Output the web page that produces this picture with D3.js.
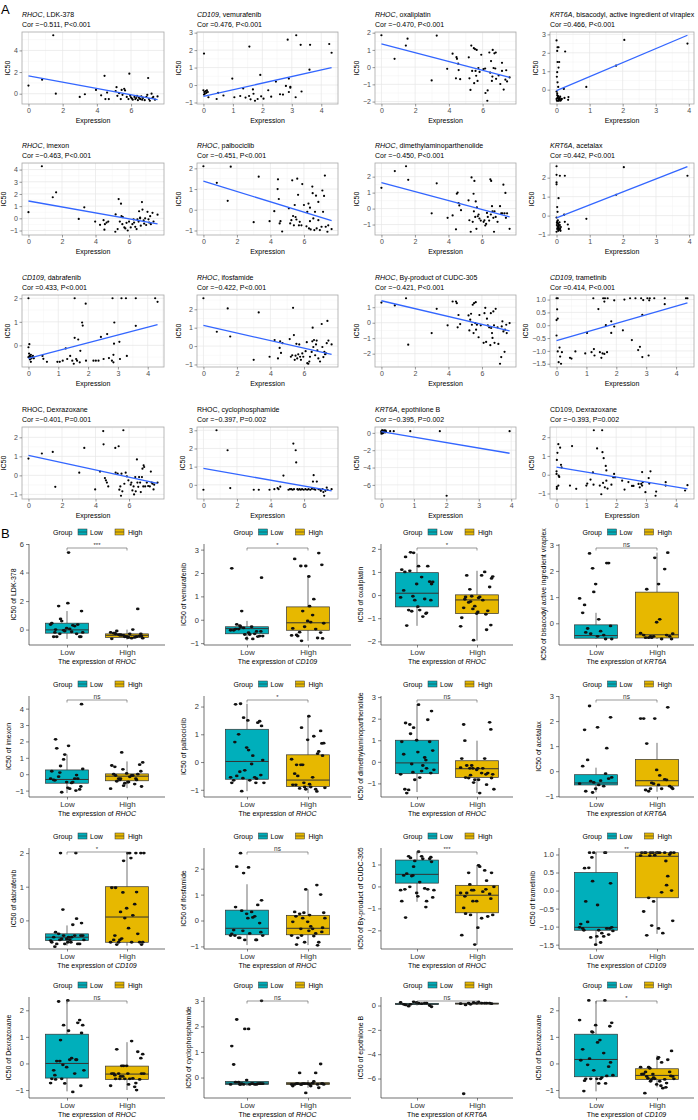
<!DOCTYPE html>
<html><head><meta charset="utf-8">
<script src="https://cdn.jsdelivr.net/npm/d3@7"></script>
<style>body{margin:0;background:#fff}svg{display:block}text{font-family:"Liberation Sans",Arial,Helvetica,sans-serif}</style>
</head><body><svg id="c" width="698" height="1120"></svg>
<script>
// ---------------- DATA ----------------
const genes = ["RHOC","CD109","RHOC","KRT6A","RHOC","RHOC","RHOC","KRT6A","CD109","RHOC","RHOC","CD109","RHOC","RHOC","KRT6A","CD109"];
const drugs = ["LDK-378","vemurafenib","oxaliplatin","bisacodyl, active ingredient of viraplex","imexon","palbociclib","dimethylaminoparthenolide","acetalax","dabrafenib","ifosfamide","By-product of CUDC-305","trametinib","Dexrazoxane","cyclophosphamide","epothilone B","Dexrazoxane"];
const geneItalic = [true,true,true,true,true,true,true,true,true,true,true,true,false,false,true,false];
const corLabels = ["Cor =\u22120.511, P<0.001","Cor =0.476, P<0.001","Cor =\u22120.470, P<0.001","Cor =0.466, P<0.001","Cor =\u22120.463, P<0.001","Cor =\u22120.451, P<0.001","Cor =\u22120.450, P<0.001","Cor =0.442, P<0.001","Cor =0.433, P<0.001","Cor =\u22120.422, P<0.001","Cor =\u22120.421, P<0.001","Cor =0.414, P<0.001","Cor =\u22120.401, P=0.001","Cor =\u22120.397, P=0.002","Cor =\u22120.395, P=0.002","Cor =\u22120.393, P=0.002"];

// [expression, IC50]
const ldk378 = [[0,0.75],[0.8,1.3],[1.45,5.4],[1.6,0],[3.0,-0.3],[3.3,-0.05],[3.95,0.35],[4.25,-0.15],[4.45,1.65],[4.5,-0.5],[4.6,0.1],[4.7,-0.5],[5.1,0.25],[5.15,0.6],[5.2,-0.2],[5.3,0.05],[5.4,-0.5],[5.45,0.35],[5.5,-0.1],[5.6,0.45],[5.65,0.3],[5.75,-0.3],[5.85,-0.5],[5.9,1.85],[5.95,-0.2],[6.0,-0.35],[6.05,-0.45],[6.1,-0.55],[6.2,-0.3],[6.25,-0.5],[6.3,-0.4],[6.35,-0.2],[6.4,-0.6],[6.45,-0.35],[6.5,-0.45],[6.55,-0.5],[6.6,-0.25],[6.65,-0.55],[6.7,-0.4],[6.8,-0.6],[6.9,-0.3],[6.95,-0.1],[7.0,1.45],[7.05,-0.5],[7.1,-0.65],[7.2,0.0],[7.25,-0.4],[7.3,-0.3],[7.4,-0.55],[7.55,-0.25]];
const vemurafenib = [[0.02,1.8],[0,-0.3],[0.03,-0.4],[0.05,-0.5],[0.08,-0.35],[0.1,-0.45],[0.12,-0.3],[0.02,-0.55],[0.15,-0.4],[0.17,-0.7],[0.45,-0.8],[0.5,-0.45],[0.68,-0.6],[0.98,0.37],[1.05,-0.7],[1.25,-0.63],[1.35,-0.2],[1.43,-0.72],[1.55,-0.63],[1.56,2.2],[1.6,-0.82],[1.68,-0.25],[1.7,-0.5],[1.75,-0.9],[1.84,-0.8],[1.93,0.58],[1.96,-0.65],[2.04,-0.78],[2.2,-0.3],[2.3,-0.67],[2.46,0.2],[2.6,-0.53],[2.7,-0.55],[2.8,-0.05],[2.86,2.6],[2.9,-0.4],[2.9,0.37],[2.95,-0.15],[2.95,-0.1],[3.13,-0.7],[3.15,2.85],[3.3,2.3],[3.33,-0.37],[3.6,0.88],[3.62,2.3],[4.27,2.35],[4.35,1.85]];
const oxaliplatin = [[0,1.85],[0.78,0.48],[1.45,1.25],[1.55,1.65],[2.98,-0.77],[3.28,1.83],[3.9,-0.1],[4.22,0.78],[4.42,-0.65],[4.45,0.58],[4.48,0.48],[4.55,0.2],[4.58,-0.17],[4.67,-0.7],[5.18,0.57],[5.22,-0.65],[5.28,-1.32],[5.33,1.25],[5.38,-0.22],[5.48,1.1],[5.5,-0.93],[5.55,1.05],[5.58,-0.22],[5.62,-0.5],[5.65,1.0],[5.7,-0.8],[5.75,-0.05],[5.82,-0.28],[5.92,0.72],[6.05,-0.12],[6.15,-0.08],[6.17,-1.5],[6.28,-1.95],[6.3,-1.35],[6.4,0.85],[6.45,-0.32],[6.5,0.35],[6.55,-0.8],[6.58,-0.55],[6.6,1.0],[6.65,-0.05],[6.7,0.8],[6.75,-0.08],[6.78,0.85],[6.8,-0.68],[6.95,-0.48],[7.05,-0.98],[7.15,-0.22],[7.15,0.25],[7.25,-1.3],[7.35,-0.73],[7.4,-0.18],[7.45,-0.83],[7.6,-0.6]];
const bisacodyl = [[0.0,2.67],[0.02,2.1],[0.03,2.3],[0.06,2.3],[0.08,1.5],[0.03,1.5],[0.06,1.2],[0.02,0.95],[0.01,0.7],[0.03,0.4],[0.05,0.15],[0.0,-0.1],[0.02,-0.3],[0.04,-0.4],[0.06,-0.5],[0.08,-0.55],[0.01,-0.6],[0.03,-0.45],[0.05,-0.35],[0.07,-0.6],[0.1,-0.5],[0.12,-0.6],[0.0,-0.5],[0.02,-0.2],[0.09,-0.45],[0.11,-0.38],[0.04,-0.6],[0.14,-0.55],[0.16,-0.5],[0.22,0.04],[0.24,-0.45],[0.26,2.07],[0.35,-0.55],[0.36,-0.4],[0.9,0.15],[1.8,1.3],[2.05,2.7],[3.96,2.5]];
const imexon = [[0,0.5],[0.8,4.27],[1.45,1.73],[1.65,2.13],[3.0,-0.05],[3.33,0.9],[3.98,-0.27],[4.27,-0.53],[4.48,-0.15],[4.53,-0.93],[4.56,-0.48],[4.66,-0.35],[4.76,-0.27],[5.18,-1.1],[5.2,0.32],[5.32,-0.88],[5.38,1.58],[5.45,-0.27],[5.52,1.2],[5.55,0.18],[5.6,-0.48],[5.63,0.1],[5.72,-0.75],[5.78,-0.83],[5.85,-0.37],[5.92,-1.0],[6.0,-0.27],[6.1,-0.75],[6.2,-0.48],[6.27,-0.08],[6.3,-0.35],[6.37,-0.7],[6.45,-0.88],[6.5,-0.08],[6.57,-0.27],[6.6,0.58],[6.66,0.05],[6.66,0],[6.7,-0.6],[6.77,1.33],[6.8,0.72],[6.87,-0.16],[6.9,-0.43],[6.96,0],[7.02,-0.55],[7.1,0.53],[7.16,-0.08],[7.2,-0.35],[7.26,0.18],[7.3,-0.48],[7.4,0.45],[7.46,-0.27],[7.7,0.3]];
const palbociclib = [[0,2.1],[0.8,1.3],[1.45,0.43],[1.63,2.08],[3.0,-0.6],[3.3,1.6],[3.95,-0.55],[4.23,-0.07],[4.43,1.0],[4.45,1.47],[4.5,0.52],[4.55,-0.66],[4.6,-0.55],[4.7,-1.05],[5.1,0.07],[5.18,-0.66],[5.25,-0.5],[5.3,1.42],[5.35,-0.3],[5.4,-0.75],[5.45,0.23],[5.5,-0.35],[5.55,-0.47],[5.6,1.5],[5.65,0.72],[5.7,-0.75],[5.75,-0.58],[5.85,-0.75],[5.9,1.24],[6.0,0.23],[6.15,-0.8],[6.2,-0.1],[6.27,0.3],[6.3,-0.9],[6.36,0.1],[6.36,-0.55],[6.4,-0.95],[6.5,1.12],[6.52,0.8],[6.56,-0.42],[6.62,-0.98],[6.66,-0.1],[6.72,0.68],[6.76,-0.9],[6.86,-0.5],[6.86,0.38],[6.95,-0.98],[7.05,-0.82],[7.1,0.93],[7.14,-0.1],[7.2,0.67],[7.25,1.65],[7.3,-0.82],[7.4,-1.06],[7.45,-0.75],[7.65,-0.93]];
const dimethylaminoparthenolide = [[0,1.3],[0.8,2.35],[1.47,2.65],[1.6,1.8],[3.0,-0.3],[3.3,1.58],[3.95,-0.58],[4.25,-0.43],[4.45,-1.3],[4.5,0.93],[4.55,1.0],[4.6,0.35],[4.65,0.2],[4.75,-0.1],[5.2,0.52],[5.25,-0.73],[5.33,-1.45],[5.38,1.95],[5.45,-0.83],[5.5,0.93],[5.52,-0.17],[5.55,1.73],[5.6,-0.52],[5.63,0.45],[5.67,-1.27],[5.7,0.08],[5.75,-0.48],[5.8,-0.37],[5.85,-0.62],[5.93,-0.75],[6.1,-0.83],[6.15,-0.73],[6.2,-1.06],[6.25,-0.96],[6.3,-0.27],[6.35,-0.52],[6.43,-0.75],[6.5,1.83],[6.53,-0.37],[6.55,1.73],[6.6,0.15],[6.63,-0.17],[6.68,-0.58],[6.72,-1.45],[6.75,-0.17],[6.82,-0.52],[6.93,-0.83],[7.08,0.15],[7.15,-0.3],[7.22,-0.3],[7.28,1.5],[7.35,-0.3],[7.4,0.98],[7.43,-0.58],[7.5,-0.3],[7.65,-1.27]];
const acetalax = [[0.0,2.6],[0.0,2.15],[0.0,1.75],[0.0,1.65],[0.06,0.92],[0.02,0.45],[0.03,0.2],[0.0,-0.1],[0.02,-0.3],[0.04,-0.4],[0.01,-0.5],[0.05,-0.55],[0.03,-0.6],[0.06,-0.45],[0.07,-0.65],[0.02,-0.7],[0.08,-0.75],[0.0,-0.85],[0.05,-0.8],[0.1,-0.5],[0.11,-0.7],[0.09,-0.35],[0.12,-0.8],[0.04,-0.25],[0.07,-0.55],[0.13,-0.6],[0.01,-0.38],[0.06,-0.7],[0.1,2.1],[0.23,0.05],[0.25,2.1],[0.25,-0.33],[0.34,-0.47],[0.37,-0.7],[0.9,-0.17],[1.8,1.1],[2.03,2.55],[3.95,2.1]];
const dabrafenib = [[0,2.0],[0,-0.08],[0.02,-0.35],[0.04,-0.45],[0.06,-0.5],[0.08,-0.4],[0.1,-0.55],[0.03,0.05],[0.05,-0.6],[0.12,-0.5],[0.15,-0.45],[0.18,-0.55],[0.08,-0.7],[0.0,-0.5],[0.47,-0.45],[0.5,-0.57],[0.62,-0.7],[0.97,-0.7],[1.05,-0.7],[1.15,-0.65],[1.25,-0.13],[1.3,-0.58],[1.4,-0.45],[1.47,-0.65],[1.52,-0.78],[1.55,2.0],[1.55,0.32],[1.6,-0.58],[1.63,-0.65],[1.67,0.25],[1.72,-0.72],[1.74,-0.23],[1.8,0.97],[1.82,0.84],[1.92,1.77],[1.93,-0.65],[2.18,-0.65],[2.26,-0.65],[2.35,-0.65],[2.43,0.36],[2.52,-0.58],[2.64,0.48],[2.7,-0.54],[2.8,-0.65],[2.82,2.0],[2.85,-0.72],[2.85,-0.4],[2.87,0.07],[2.88,0.97],[3.05,0.15],[3.07,-0.58],[3.12,2.0],[3.27,2.0],[3.3,-0.45],[3.6,2.0],[3.6,0.83],[4.25,2.0],[4.33,1.85]];
const ifosfamide = [[0,2.6],[0.8,0.78],[1.45,2.05],[1.6,0.52],[3.0,-0.75],[3.3,1.83],[3.95,-0.58],[4.25,0.33],[4.45,-0.67],[4.55,-0.1],[4.58,0.26],[4.63,-0.37],[4.72,0.16],[5.15,0.38],[5.22,-0.58],[5.3,-0.5],[5.35,2.08],[5.4,0.6],[5.45,-0.75],[5.5,-0.52],[5.55,0.12],[5.6,-0.67],[5.66,-0.45],[5.72,0.09],[5.77,-0.58],[5.82,-0.75],[5.9,-0.4],[5.96,-0.58],[6.1,-0.28],[6.17,0.21],[6.2,-0.93],[6.26,-0.96],[6.32,-0.84],[6.36,-0.58],[6.46,-0.32],[6.5,0.26],[6.52,1.0],[6.56,-0.05],[6.6,0.33],[6.67,-0.5],[6.72,0.09],[6.76,0.3],[6.8,-0.23],[6.86,-0.67],[6.96,-0.84],[7.06,1.2],[7.1,-0.05],[7.16,-0.6],[7.22,-0.32],[7.26,-0.44],[7.32,-0.4],[7.36,0.16],[7.4,1.37],[7.46,0.3],[7.65,0.09]];
const cudc305 = [[0,1.3],[0.8,1.12],[1.47,1.58],[1.6,-1.42],[3.0,-0.67],[3.3,0.9],[3.95,-0.17],[4.25,1.37],[4.45,1.37],[4.5,1.26],[4.55,-0.3],[4.6,0.5],[4.7,-0.09],[5.2,0.47],[5.25,-0.5],[5.3,0.2],[5.35,0.58],[5.4,-0.13],[5.45,1.16],[5.5,-0.67],[5.53,1.26],[5.6,-0.02],[5.63,1.33],[5.65,-0.45],[5.7,-0.13],[5.8,-0.94],[5.85,0.5],[5.93,-0.17],[6.1,-1.3],[6.15,0.62],[6.2,0.96],[6.25,-1.24],[6.3,0.26],[6.35,-0.17],[6.43,-0.3],[6.5,-1.45],[6.53,0.62],[6.55,-0.34],[6.6,-0.67],[6.63,-0.98],[6.68,0.73],[6.72,-0.17],[6.75,-1.3],[6.82,0.9],[6.93,-0.3],[6.98,-1.37],[7.08,-2.65],[7.15,-2.22],[7.18,-0.24],[7.22,0.09],[7.28,-0.56],[7.35,-1.88],[7.38,-0.45],[7.45,-0.13],[7.48,-0.67],[7.65,-0.02]];
const trametinib = [[0,1.05],[0.04,1.05],[0.02,0.62],[0,0.2],[0.04,0.26],[0,-0.4],[0.04,-1.02],[0.07,-1.44],[0.1,-0.87],[0.12,-1.22],[0.15,-1.5],[0.18,-1.05],[0.45,-1.27],[0.5,-1.3],[0.63,-1.02],[0.96,-1.1],[1.02,-0.3],[1.17,-1.05],[1.23,1.05],[1.25,-0.93],[1.27,-1.18],[1.4,0.63],[1.45,-1.05],[1.5,-1.27],[1.54,-1.1],[1.56,1.05],[1.6,0.92],[1.6,-1.12],[1.62,1.05],[1.65,0.0],[1.69,-1.05],[1.71,1.05],[1.83,0.15],[1.83,-0.3],[1.93,0.97],[1.93,-0.05],[2.22,-0.2],[2.27,1.0],[2.46,1.05],[2.52,-0.58],[2.64,1.05],[2.73,-0.97],[2.79,-0.84],[2.83,1.05],[2.87,-1.24],[2.87,0.4],[2.9,0.98],[3.04,1.05],[3.08,-1.18],[3.1,0.97],[3.12,1.05],[3.27,1.05],[3.62,1.05],[3.62,0.82],[4.33,1.05],[4.38,1.05]];
const dexrazoxaneRhoc = [[0,0.88],[0.8,1.15],[1.45,1.23],[1.6,-0.6],[3.03,0.14],[3.33,1.44],[3.98,-0.74],[4.27,0.2],[4.46,2.33],[4.48,1.63],[4.56,-0.14],[4.62,-0.26],[4.68,-0.38],[4.76,-0.58],[5.18,1.44],[5.2,0.14],[5.32,0.09],[5.38,1.53],[5.42,-0.75],[5.48,-0.58],[5.52,-1.07],[5.55,0.09],[5.6,-0.84],[5.66,2.37],[5.72,-0.44],[5.8,0.14],[5.87,-0.05],[5.96,-0.26],[6.1,-0.49],[6.14,-0.38],[6.2,-0.79],[6.27,-0.58],[6.3,-1.0],[6.37,-0.09],[6.4,-0.84],[6.47,0.84],[6.5,-0.38],[6.55,-0.6],[6.6,-0.09],[6.66,-0.38],[6.7,-0.88],[6.77,-0.09],[6.8,0.35],[6.85,-0.58],[6.87,0.53],[6.9,0.44],[6.96,-0.58],[7.06,-0.38],[7.14,-0.56],[7.24,-0.58],[7.3,0.2],[7.35,-0.38],[7.4,-0.44],[7.46,-0.74],[7.5,-0.49],[7.7,-0.38]];
const cyclophosphamide = [[0,-0.27],[0.78,3.0],[1.44,1.9],[1.6,-0.18],[3.0,-0.27],[3.3,-0.27],[3.94,-0.27],[4.23,-0.24],[4.42,-0.18],[4.48,-0.24],[4.58,-0.1],[4.77,0.51],[5.07,-0.27],[5.16,-0.24],[5.24,-0.24],[5.32,-0.27],[5.36,2.27],[5.4,-0.24],[5.5,1.9],[5.53,1.23],[5.6,-0.24],[5.65,-0.27],[5.73,-0.24],[5.8,-0.27],[5.88,-0.24],[5.98,-0.27],[6.08,-0.24],[6.18,-0.27],[6.27,-0.24],[6.37,-0.27],[6.47,-0.22],[6.53,0.18],[6.57,0.53],[6.6,-0.24],[6.67,-0.27],[6.76,0.18],[6.86,-0.24],[6.96,-0.27],[7.0,-0.33],[7.1,-0.24],[7.15,-0.4],[7.2,-0.6],[7.27,-0.33],[7.35,-0.15],[7.4,-0.27],[7.64,-0.24]];
const epothiloneB = [[0,0.1],[0.02,0.2],[0.04,0.15],[0.06,0.25],[0.08,0.1],[0.1,0.3],[0.01,0.05],[0.03,0.25],[0.05,0.0],[0.07,0.2],[0.09,0.15],[0.12,0.2],[0.0,-0.1],[0.02,0.3],[0.11,0.05],[0.14,0.15],[0.04,-0.05],[0.13,0.25],[0.0,0.2],[0.06,0.1],[0.27,0.2],[0.38,0.2],[0.89,0.2],[1.8,0.2],[2.01,-7.25],[3.95,0.2]];
const dexrazoxaneCd109 = [[0,0.18],[0,0.04],[0.01,0.79],[0.03,1.17],[0.06,1.63],[0.01,-0.65],[0.06,-0.58],[0.07,-0.05],[0.09,-0.12],[0.12,1.44],[0.15,0.53],[0.17,0.39],[0.01,-0.75],[0.45,-0.58],[0.52,1.53],[0.66,-0.75],[1.0,-0.58],[1.03,-0.47],[1.14,-0.26],[1.22,0.12],[1.24,-0.53],[1.25,2.37],[1.36,1.4],[1.45,-0.58],[1.5,-1.04],[1.53,2.37],[1.54,1.2],[1.56,-0.44],[1.58,0.88],[1.62,-0.67],[1.65,0.47],[1.67,0.23],[1.67,-0.32],[1.71,-0.74],[1.84,-0.53],[1.9,-0.14],[1.93,0.04],[1.96,-0.14],[2.2,-0.32],[2.28,-0.79],[2.41,-0.39],[2.53,-0.6],[2.58,-0.6],[2.75,-0.49],[2.79,-0.67],[2.84,-0.49],[2.87,0.14],[2.87,-0.58],[2.89,-0.4],[2.98,-0.93],[3.09,-0.18],[3.11,-0.47],[3.15,0.18],[3.32,-1.12],[3.34,-0.9],[3.66,-0.4],[3.66,-0.58],[4.31,-0.84],[4.39,-0.56]];

const scatterSeries = [ldk378,vemurafenib,oxaliplatin,bisacodyl,imexon,palbociclib,dimethylaminoparthenolide,acetalax,dabrafenib,ifosfamide,cudc305,trametinib,dexrazoxaneRhoc,cyclophosphamide,epothiloneB,dexrazoxaneCd109];
// fitted IC50 at lowest and highest expression
const fitY0 = [1.65,-0.65,1.35,-0.05,1.42,1.38,1.62,-0.12,-0.55,1.12,1.42,-0.6,1.05,0.9,0.15,0.4];
const fitY1 = [-0.55,1.0,-0.6,2.95,-0.45,-0.52,-0.52,2.58,0.88,-0.45,-0.52,0.87,-0.42,-0.33,-2.35,-0.75];

const scatterXTicks = [[0,2,4,6],[0,1,2,3,4],[0,2,4,6],[0,1,2,3,4],[0,2,4,6],[0,2,4,6],[0,2,4,6],[0,1,2,3,4],[0,1,2,3,4],[0,2,4,6],[0,2,4,6],[0,1,2,3,4],[0,2,4,6],[0,2,4,6],[0,1,2,3,4],[0,1,2,3,4]];
const scatterYTicks = [[0,2,4],[-1,0,1,2,3],[-2,-1,0,1,2],[0,1,2,3],[-1,0,1,2,3,4],[-1,0,1,2],[-1,0,1,2],[-1,0,1,2],[0,1,2],[-1,0,1,2],[-2,-1,0,1],[-1.5,-1,-0.5,0,0.5,1],[-1,0,1,2],[0,1,2,3],[-6,-4,-2,0],[-1,0,1,2]];

// box plot statistics [lower whisker, Q1, median, Q3, upper whisker]
const groups = ["Low","High"];
const boxLow = [[-0.65,-0.25,-0.02,0.45,1.3],[-0.9,-0.6,-0.38,-0.3,-0.05],[-1.33,-0.51,0.08,0.97,1.8],[-0.6,-0.57,-0.47,-0.06,0.4],[-1.15,-0.55,-0.32,0.26,1.2],[-1.05,-0.62,0.02,1.18,2.1],[-1.4,-0.55,-0.05,1.0,2.67],[-0.84,-0.55,-0.47,-0.14,0.14],[-0.75,-0.6,-0.5,-0.4,-0.15],[-0.95,-0.55,-0.3,0.4,1.4],[-0.7,0.15,0.55,1.2,1.6],[-1.5,-1.1,-1.02,0.5,1.05],[-1.05,-0.55,0.0,1.1,2.35],[-0.33,-0.27,-0.22,-0.15,-0.05],[0.0,0.08,0.12,0.18,0.3],[-1.05,-0.5,0.15,1.1,2.35]];
const boxHigh = [[-0.7,-0.55,-0.4,-0.3,0.0],[-0.9,-0.45,-0.13,0.55,1.85],[-1.97,-0.8,-0.21,0.01,1.05],[-0.6,-0.56,-0.44,1.19,2.7],[-0.85,-0.4,-0.12,0.02,0.78],[-1.12,-0.88,-0.65,0.26,1.66],[-1.45,-0.72,-0.32,0.05,0.98],[-0.82,-0.59,-0.38,0.47,1.13],[-0.75,-0.65,0.1,1.0,2.0],[-0.95,-0.55,-0.3,0.2,1.2],[-2.65,-1.2,-0.4,0.05,0.95],[-1.2,-0.2,0.95,1.05,1.05],[-1.0,-0.6,-0.4,-0.1,0.8],[-0.4,-0.27,-0.24,-0.2,-0.1],[0.05,0.12,0.15,0.2,0.3],[-0.9,-0.6,-0.45,-0.2,0.3]];
const boxRange = [[-1.08,6.0],[-1.08,3.24],[-2.16,2.21],[-0.83,3.03],[-1.39,4.77],[-1.26,2.38],[-1.63,3.05],[-1.03,3.0],[-0.85,2.15],[-1.1,2.8],[-2.85,1.75],[-1.62,1.18],[-1.3,2.5],[-0.8,3.15],[-7.6,0.7],[-1.3,2.5]];
const boxYTicks = [[0,2,4,6],[-1,0,1,2,3],[-2,-1,0,1,2],[0,1,2,3],[-1,0,1,2,3,4],[-1,0,1,2],[-1,0,1,2,3],[-1,0,1,2,3],[0,1,2],[-1,0,1,2],[-2,-1,0,1],[-1.5,-1,-0.5,0,0.5,1],[-1,0,1,2],[0,1,2,3],[-6,-4,-2,0],[-1,0,1,2]];
const boxYLabels = ["IC50 of LDK-378","IC50 of vemurafenib","IC50 of oxaliplatin","IC50 of bisacodyl active ingredient viraplex","IC50 of imexon","IC50 of palbociclib","IC50 of dimethylaminoparthenolide","IC50 of acetalax","IC50 of dabrafenib","IC50 of ifosfamide","IC50 of By-product of CUDC-305","IC50 of trametinib","IC50 of Dexrazoxane","IC50 of cyclophosphamide","IC50 of epothilone B","IC50 of Dexrazoxane"];
const sigLabels = ["***","*","*","ns","ns","*","ns","ns","*","ns","***","**","ns","ns","ns","*"];
const groupColors = {Low:"#00AFBB", High:"#E7B800"};

// ---------------- LAYOUT ----------------
const colA = [[22,164],[197,338],[375,516],[550,694]];
const rowTopA = [32,163,295,427];
const panelHA = 72;
const boxAxisX = [29,204,381,559];
const boxLowX = [67,247,417,596];
const boxHighX = [127,308,477,657];
const legendY = [532,684,836,985];
const boxTopOff = 12, boxBotOff = 113;
const boxW = 43;

const svg = d3.select("#c");
svg.append("text").attr("x",1).attr("y",14).attr("font-size",13).text("A");
svg.append("text").attr("x",1).attr("y",538).attr("font-size",13).text("B");

const fmtFor = t => t.some(v=>!Number.isInteger(v)) ? d3.format(".1f") : d3.format("d");

function minorBreaks(t, dom){
  const s = t[1]-t[0], out=[];
  for(let k=-1;k<t.length;k++){
    const v = t[0]+s*(k+0.5);
    if(v>=dom[0] && v<=dom[1]) out.push(v);
  }
  return out;
}

// ---------------- PANEL A: scatter ----------------
scatterSeries.forEach((pts,i)=>{
  const c=i%4, r=Math.floor(i/4);
  const L=colA[c][0], R=colA[c][1], T=rowTopA[r], B=T+panelHA;
  const xe=d3.extent(pts,d=>d[0]);
  const ye=d3.extent(pts.map(d=>d[1]).concat([fitY0[i],fitY1[i]]));
  const xp=(xe[1]-xe[0])*0.05, yp=(ye[1]-ye[0])*0.05;
  const x=d3.scaleLinear().domain([xe[0]-xp,xe[1]+xp]).range([L,R]);
  const y=d3.scaleLinear().domain([ye[0]-yp,ye[1]+yp]).range([B,T]);
  const g=svg.append("g");
  const xt=scatterXTicks[i], yt=scatterYTicks[i];
  g.selectAll(".mx").data(minorBreaks(xt,x.domain())).join("line")
    .attr("x1",d=>x(d)).attr("x2",d=>x(d)).attr("y1",T).attr("y2",B).attr("stroke","#f3f3f3").attr("stroke-width",0.5);
  g.selectAll(".my").data(minorBreaks(yt,y.domain())).join("line")
    .attr("y1",d=>y(d)).attr("y2",d=>y(d)).attr("x1",L).attr("x2",R).attr("stroke","#f3f3f3").attr("stroke-width",0.5);
  g.selectAll(".gx").data(xt).join("line")
    .attr("x1",d=>x(d)).attr("x2",d=>x(d)).attr("y1",T).attr("y2",B).attr("stroke","#e6e6e6").attr("stroke-width",0.7);
  g.selectAll(".gy").data(yt).join("line")
    .attr("y1",d=>y(d)).attr("y2",d=>y(d)).attr("x1",L).attr("x2",R).attr("stroke","#e6e6e6").attr("stroke-width",0.7);
  g.selectAll("circle").data(pts).join("circle")
    .attr("cx",d=>x(d[0])).attr("cy",d=>y(d[1])).attr("r",1.1).attr("fill","#000");
  g.append("line").attr("x1",x(xe[0])).attr("y1",y(fitY0[i])).attr("x2",x(xe[1])).attr("y2",y(fitY1[i]))
    .attr("stroke","#3366FF").attr("stroke-width",1.3);
  g.append("rect").attr("x",L).attr("y",T).attr("width",R-L).attr("height",B-T)
    .attr("fill","none").attr("stroke","#a8a8a8").attr("stroke-width",0.8);
  const fmt=fmtFor(yt);
  const ax=g.append("g").attr("transform",`translate(0,${B})`)
    .call(d3.axisBottom(x).tickValues(xt).tickSize(2.5).tickPadding(1.5).tickFormat(d3.format("d")));
  const ay=g.append("g").attr("transform",`translate(${L},0)`)
    .call(d3.axisLeft(y).tickValues(yt).tickSize(2.5).tickPadding(1.5).tickFormat(fmt));
  [ax,ay].forEach(a=>{
    a.select(".domain").remove();
    a.selectAll(".tick line").attr("stroke","#555").attr("stroke-width",0.6);
    a.selectAll("text").attr("fill","#4d4d4d").attr("font-size",7).attr("font-family","Liberation Sans, Arial, sans-serif");
  });
  let maxW=0; ay.selectAll("text").each(function(){maxW=Math.max(maxW,this.getComputedTextLength());});
  g.append("text").attr("transform",`translate(${L-4-maxW-4},${(T+B)/2}) rotate(-90)`)
    .attr("text-anchor","middle").attr("font-size",7).text("IC50");
  g.append("text").attr("x",(L+R)/2).attr("y",B+18.5).attr("text-anchor","middle").attr("font-size",7).text("Expression");
  const t1=g.append("text").attr("x",L).attr("y",T-15).attr("font-size",7);
  t1.append("tspan").attr("font-style",geneItalic[i]?"italic":"normal").text(genes[i]);
  t1.append("tspan").text(", "+drugs[i]);
  g.append("text").attr("x",L).attr("y",T-5).attr("font-size",7).text(corLabels[i]);
});

// ---------------- PANEL B: box plots ----------------
boxLow.forEach((_,i)=>{
  const c=i%4, r=Math.floor(i/4);
  const axX=boxAxisX[c];
  const top=legendY[r]+boxTopOff, bot=legendY[r]+boxBotOff;
  const y=d3.scaleLinear().domain(boxRange[i]).range([bot,top]);
  const x=d3.scalePoint().domain(groups).range([boxLowX[c],boxHighX[c]]);
  const right=boxHighX[c]+(boxLowX[c]-axX);
  const g=svg.append("g");
  const cx=(boxLowX[c]+boxHighX[c])/2+1;
  const lg=g.append("g").attr("transform",`translate(${cx},${legendY[r]})`);
  lg.append("text").attr("x",-45).attr("y",2.5).attr("font-size",7).text("Group");
  [["Low",-20,-8],["High",17,30]].forEach(([k,kx,tx])=>{
    lg.append("rect").attr("x",kx).attr("y",-3).attr("width",9).attr("height",6)
      .attr("fill",groupColors[k]).attr("stroke","#333").attr("stroke-width",0.5);
    lg.append("line").attr("x1",kx).attr("x2",kx+9).attr("y1",0).attr("y2",0).attr("stroke","#333").attr("stroke-width",0.6);
    lg.append("text").attr("x",tx).attr("y",2.5).attr("font-size",7).text(k);
  });
  const stats={Low:boxLow[i],High:boxHigh[i]};
  groups.forEach(k=>{
    const s=stats[k], gx=x(k);
    g.append("line").attr("x1",gx).attr("x2",gx).attr("y1",y(s[0])).attr("y2",y(s[1])).attr("stroke","#333").attr("stroke-width",0.7);
    g.append("line").attr("x1",gx).attr("x2",gx).attr("y1",y(s[3])).attr("y2",y(s[4])).attr("stroke","#333").attr("stroke-width",0.7);
    g.append("rect").attr("x",gx-boxW/2).attr("y",y(s[3])).attr("width",boxW).attr("height",Math.max(0.8,y(s[1])-y(s[3])))
      .attr("fill",groupColors[k]).attr("stroke","#333").attr("stroke-width",0.7);
    g.append("line").attr("x1",gx-boxW/2).attr("x2",gx+boxW/2).attr("y1",y(s[2])).attr("y2",y(s[2])).attr("stroke","#333").attr("stroke-width",1);
  });
  // jittered points: same samples as the scatter, split at median expression
  const sorted=scatterSeries[i].slice().sort((a,b)=>a[0]-b[0]);
  const half=Math.floor(sorted.length/2);
  const split={Low:sorted.slice(0,half),High:sorted.slice(half)};
  groups.forEach(k=>{
    g.selectAll(null).data(split[k]).join("ellipse")
      .attr("cx",(d,j)=>x(k)+(((j*0.618034+0.31)%1)-0.5)*34)
      .attr("cy",d=>y(d[1])).attr("rx",1.8).attr("ry",1.4).attr("fill","#111");
  });
  g.append("line").attr("x1",axX).attr("x2",axX).attr("y1",top).attr("y2",bot).attr("stroke","#333").attr("stroke-width",0.7);
  g.append("line").attr("x1",axX).attr("x2",right).attr("y1",bot).attr("y2",bot).attr("stroke","#333").attr("stroke-width",0.7);
  const yt=boxYTicks[i].filter(v=>v>=boxRange[i][0]&&v<=boxRange[i][1]);
  const ay=g.append("g").attr("transform",`translate(${axX},0)`)
    .call(d3.axisLeft(y).tickValues(yt).tickSize(3).tickPadding(2).tickFormat(fmtFor(boxYTicks[i])));
  const ax=g.append("g").attr("transform",`translate(0,${bot})`)
    .call(d3.axisBottom(x).tickSize(2.5).tickPadding(1.5));
  [ax,ay].forEach(a=>{
    a.select(".domain").remove();
    a.selectAll(".tick line").attr("stroke","#333").attr("stroke-width",0.6);
    a.selectAll("text").attr("fill","#333").attr("font-size",7.5).attr("font-family","Liberation Sans, Arial, sans-serif");
  });
  ax.selectAll("text").attr("font-size",8);
  let maxW=0; ay.selectAll("text").each(function(){maxW=Math.max(maxW,this.getComputedTextLength());});
  g.append("text").attr("transform",`translate(${axX-5-maxW-4},${(top+bot)/2}) rotate(-90)`)
    .attr("text-anchor","middle").attr("font-size",7).text(boxYLabels[i]);
  const xl=g.append("text").attr("x",(axX+right)/2).attr("y",bot+18.5).attr("text-anchor","middle").attr("font-size",7);
  xl.append("tspan").text("The expression of ");
  xl.append("tspan").attr("font-style","italic").text(genes[i]);
  const by=top+4;
  g.append("path").attr("d",`M${x("Low")},${by+2.5}V${by}H${x("High")}V${by+2.5}`)
    .attr("fill","none").attr("stroke","#555").attr("stroke-width",0.6);
  g.append("text").attr("x",(x("Low")+x("High"))/2).attr("y",by-1.5).attr("text-anchor","middle")
    .attr("font-size",sigLabels[i]==="ns"?6.5:6).attr("fill","#333").text(sigLabels[i]);
});
</script></body></html>
